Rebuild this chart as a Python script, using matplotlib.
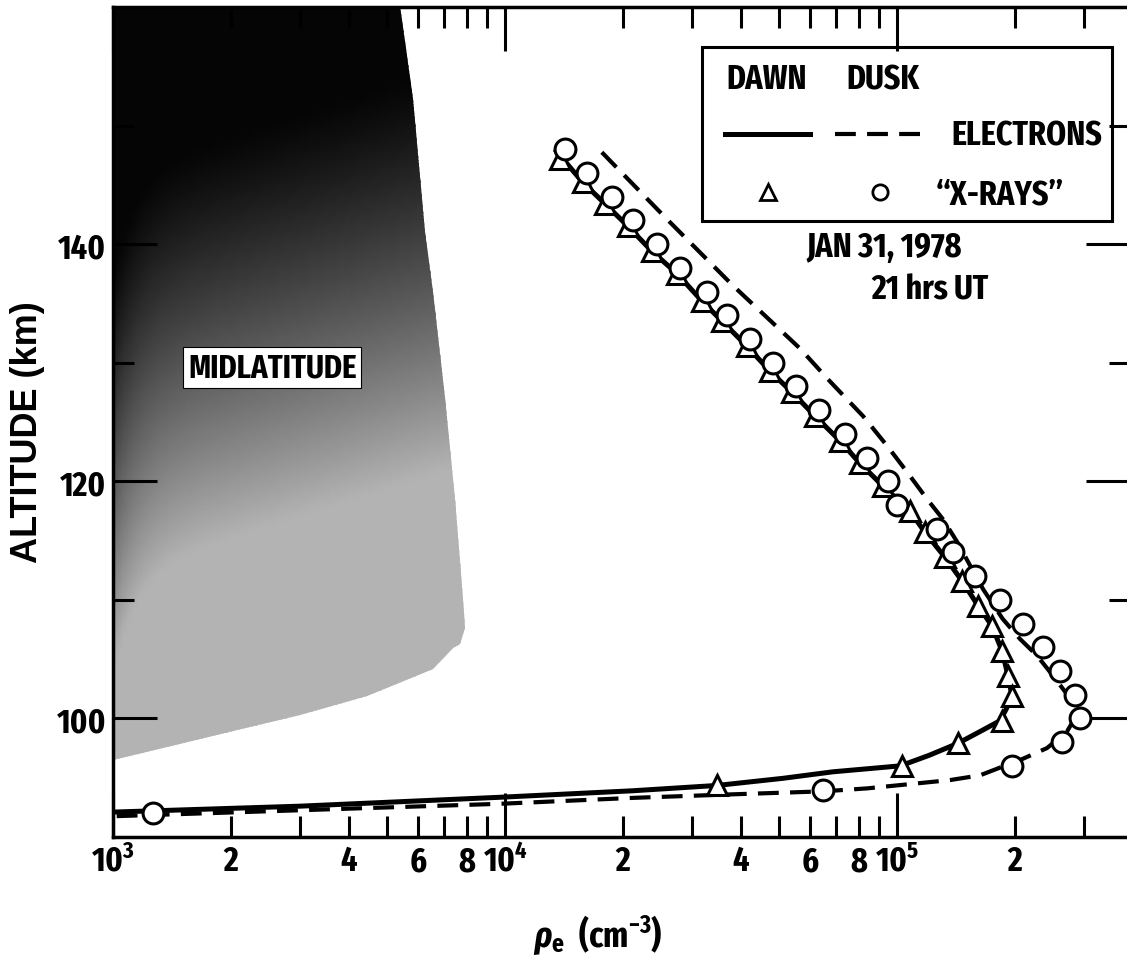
import os
import numpy as np
import matplotlib
matplotlib.use("Agg")
import matplotlib.pyplot as plt
from matplotlib import font_manager as fm
from matplotlib.patches import Polygon, Rectangle
from matplotlib.ticker import FixedLocator, FixedFormatter

# ---------------- data ----------------
# Dusk "X-RAYS" (circles)
dusk_xray_alt = [148, 146, 144, 142, 140, 138, 136, 134, 132, 130, 128, 126, 124, 122,
                 120, 118, 116, 114, 112, 110, 108, 106, 104, 102, 100, 98, 96, 94, 92]
dusk_xray_dens = [14200, 16200, 18750, 21200, 24450, 27900, 32700, 36800, 42200, 48300,
                  55200, 63200, 73600, 83800, 94800, 100000, 126500, 138900, 158100, 183200,
                  209600, 235700, 260400, 284500, 293000, 263700, 196500, 64700, 1265]

# Dawn "X-RAYS" (triangles)
dawn_xray_alt = [147.2, 145.2, 143.4, 141.5, 139.4, 137.5, 135.2, 133.5, 131.4, 129.3,
                 127.5, 125.5, 123.4, 121.5, 119.6, 117.5, 115.7, 113.6, 111.6, 109.5,
                 107.8, 105.7, 103.6, 101.9, 99.8, 97.9, 96.0, 94.4]
dawn_xray_dens = [13800, 15800, 18000, 20600, 23700, 27500, 31800, 35800, 41400, 47400,
                  54000, 61800, 71600, 80500, 92100, 107900, 117800, 132500, 146500, 161000,
                  174700, 185300, 192000, 196500, 185300, 143200, 103000, 34760]

# Dawn electrons (solid)
dawn_e_alt = [148.0, 145.2, 143.4, 141.5, 139.4, 137.5, 135.2, 133.5, 131.4, 129.3,
              127.5, 125.5, 123.4, 121.5, 119.6, 117.5, 115.7, 113.6, 111.6, 109.5,
              107.8, 105.7, 103.6, 101.9, 100.8, 99.8, 98.9, 97.9, 96.9, 96.0,
              95.5, 94.95, 94.35, 93.9, 93.35, 92.6, 92.1]
dawn_e_dens = [13400, 15800, 18000, 20600, 23700, 27500, 31800, 35800, 41400, 47400,
               54000, 61800, 71600, 80500, 92100, 107900, 117800, 132500, 146500, 161000,
               174700, 185300, 192000, 196500, 190000, 183000, 163000, 143000, 121000, 102000,
               68700, 51200, 34800, 21200, 9700, 3000, 1000]

# Dusk electrons (dashed)
dusk_e_alt = [147.75, 142.1, 136.5, 131.2, 128.6, 125.5, 123.0, 120.8, 118.5, 116.8,
              114.9, 110.9, 108.4, 106.7, 105.3, 103.6, 101.7, 100.0, 98.9, 97.5,
              96.6, 95.2, 94.8, 94.1, 93.85, 93.6, 93.3, 92.8, 91.75]
dusk_e_dens = [17660, 25900, 38160, 56570, 66680, 81900, 94300, 106000, 119300, 131000,
               142300, 165800, 186000, 206000, 227600, 250000, 276300, 284000, 271500, 241400,
               209600, 162800, 136500, 83900, 64700, 38160, 21210, 9710, 1000]

# Midlatitude region outline
midlat_dens = [1000, 5400, 5460, 5820, 6250, 6550, 7030, 7450, 7820, 7900, 7670, 7360,
               6550, 4450, 3000, 2020, 1370, 1000]
midlat_alt = [160, 160, 158.9, 152.2, 141.0, 136.0, 127.0, 118.5, 110.1, 107.6, 106.3, 105.9,
              104.2, 101.9, 100.25, 98.9, 97.6, 96.5]

x_major = [1e3, 1e4, 1e5]
x_major_labels = [r'$10^{3}$', r'$10^{4}$', r'$10^{5}$']
x_minor = [m * d for d in (1e3, 1e4, 1e5) for m in range(2, 10)]
x_minor_labels = ['2', '', '4', '', '6', '', '8', ''] * 3
y_major = [100, 120, 140]
y_minor = [110, 130, 150]

# ---------------- fonts: look for a condensed bold face ----------------
def _norm(s):
    return s.lower().replace(' ', '').replace('-', '').replace('_', '')

def _weight_num(w):
    if isinstance(w, str):
        return {'bold': 700, 'semibold': 600, 'demibold': 600, 'demi': 600,
                'medium': 500, 'normal': 400, 'regular': 400, 'book': 400,
                'extra bold': 800, 'heavy': 800, 'black': 900}.get(w.lower(), 400)
    try:
        return int(w)
    except Exception:
        return 400

def choose_font():
    best = None
    for e in fm.fontManager.ttflist:
        if e.style != 'normal':
            continue
        wn = _weight_num(e.weight)
        if wn == 700:
            wbonus = 0.5
        elif wn == 600:
            wbonus = 0.3
        else:
            continue
        key = _norm(e.name + ' ' + os.path.basename(e.fname))
        st = str(e.stretch).lower()
        score = 0
        if 'liberationsansnarrow' in key:
            score = 10
        elif 'extracondensed' in key or st == 'extra-condensed':
            score = 9 if 'noto' in key else 8
        elif 'semicondensed' in key or st == 'semi-condensed':
            score = 4
        elif 'condensed' in key or 'narrow' in key or st == 'condensed':
            score = 7
        if 'ultra' in key or 'mono' in key or 'serif' in key or 'display' in key:
            score = min(score, 2)
        if score > 0:
            score += wbonus
            if best is None or score > best[0]:
                best = (score, e)
    return best

FONT, STRETCH, WEIGHT, COND = 'Liberation Sans', 'normal', 'bold', False
try:
    b = choose_font()
    if b is not None:
        FONT, STRETCH, WEIGHT, COND = b[1].name, b[1].stretch, b[1].weight, True
except Exception:
    pass

plt.rcParams['font.family'] = [FONT, 'DejaVu Sans']
plt.rcParams['font.weight'] = WEIGHT
plt.rcParams['font.stretch'] = STRETCH
plt.rcParams['axes.labelweight'] = WEIGHT
plt.rcParams['mathtext.fontset'] = 'custom'
_pat = '{}:weight={}:stretch={}'.format(FONT, WEIGHT, STRETCH)
plt.rcParams['mathtext.rm'] = _pat
plt.rcParams['mathtext.bf'] = _pat
plt.rcParams['mathtext.it'] = '{}:italic:weight={}:stretch={}'.format(FONT, WEIGHT, STRETCH)

FS = 25 if COND else 19     # general text size
FS_TICK = 25 if COND else 20

# ---------------- figure ----------------
W, H = 1127, 970
fig = plt.figure(figsize=(W / 100, H / 100), dpi=100)
AX_L, AX_R, AX_T, AX_B = 113, 1130, 8, 838
ax = fig.add_axes([AX_L / W, 1 - AX_B / H, (AX_R - AX_L) / W, (AX_B - AX_T) / H])
ax.set_xscale('log')
ax.set_xlim(1e3, 10 ** (3 + (AX_R - AX_L) / 392))
ax.set_ylim(90, 160)

def fx(px):
    return (px - AX_L) / (AX_R - AX_L)

def fy(py):
    return (AX_B - py) / (AX_B - AX_T)

# shaded midlatitude region
gx = np.logspace(3, 4, 80)
gy = np.linspace(90, 160, 120)
GX, GY = np.meshgrid(gx, gy)
u = np.log10(GX) - 3
t = np.clip((148 - GY) / 34 + 0.3 * u - 0.05 - 0.25 * np.exp(-u / 0.06), 0, 1) ** 1.2
shade = 0.02 + 0.68 * t
poly = Polygon(np.column_stack([midlat_dens, midlat_alt]), closed=True,
               transform=ax.transData, facecolor='none', edgecolor='none')
ax.add_patch(poly)
mesh = ax.pcolormesh(GX, GY, shade, cmap='gray', vmin=0, vmax=1, shading='gouraud', zorder=0.5)
mesh.set_clip_path(poly)

ax.text(2548, 129.6, 'MIDLATITUDE', ha='center', va='center', fontsize=FS - 1,
        bbox=dict(boxstyle='square,pad=0.15', fc='white', ec='black', lw=0.8), zorder=3)

# curves
ax.plot(dawn_e_dens, dawn_e_alt, color='black', lw=3.6, solid_capstyle='butt', zorder=2)
ax.plot(dusk_e_dens, dusk_e_alt, color='black', lw=3.0, linestyle=(0, (5, 2.7)), zorder=2)
ax.plot(dawn_xray_dens, dawn_xray_alt, linestyle='none', marker='^', ms=15,
        mfc='white', mec='black', mew=2.2, zorder=3)
ax.plot(dusk_xray_dens, dusk_xray_alt, linestyle='none', marker='o', ms=15,
        mfc='white', mec='black', mew=2.2, zorder=4)

# axes styling
for s in ax.spines.values():
    s.set_linewidth(2.5)
ax.xaxis.set_major_locator(FixedLocator(x_major))
ax.xaxis.set_major_formatter(FixedFormatter(x_major_labels))
ax.xaxis.set_minor_locator(FixedLocator(x_minor))
ax.xaxis.set_minor_formatter(FixedFormatter(x_minor_labels))
ax.yaxis.set_major_locator(FixedLocator(y_major))
ax.yaxis.set_minor_locator(FixedLocator(y_minor))
ax.tick_params(which='both', direction='in', top=True, right=True, width=2.2,
               labelsize=FS_TICK, pad=5)
ax.tick_params(which='major', length=32)
ax.tick_params(which='minor', length=15)

ax.set_ylabel('ALTITUDE (km)', fontsize=26, va='center', fontweight='bold',
              family=['Liberation Sans', 'DejaVu Sans'], fontstretch='normal')
ax.yaxis.set_label_coords(fx(28), fy(432))
ax.set_xlabel(r'$\mathit{\rho}_{\mathrm{e}}$  (cm$^{-3}$)', fontsize=FS + 1, va='center')
ax.xaxis.set_label_coords(fx(598), fy(935))

# legend box
ax.add_patch(Rectangle((fx(702), fy(222)), fx(1112) - fx(702), fy(48) - fy(222),
                       transform=ax.transAxes, fill=False, ec='black', lw=2.2, zorder=5))
ax.text(fx(767), fy(80), 'DAWN', transform=ax.transAxes, ha='center', va='center', fontsize=FS)
ax.text(fx(883), fy(80), 'DUSK', transform=ax.transAxes, ha='center', va='center', fontsize=FS)
ax.plot([fx(725), fx(810)], [fy(135), fy(135)], transform=ax.transAxes, color='black', lw=3.6)
ax.plot([fx(835), fx(925)], [fy(135), fy(135)], transform=ax.transAxes, color='black', lw=3.0,
        linestyle=(0, (5, 2.7)))
ax.text(fx(1102), fy(136), 'ELECTRONS', transform=ax.transAxes, ha='right', va='center',
        fontsize=FS)
ax.plot([fx(768)], [fy(193)], transform=ax.transAxes, marker='^', ms=12, mfc='white',
        mec='black', mew=2.0, linestyle='none')
ax.plot([fx(880)], [fy(193)], transform=ax.transAxes, marker='o', ms=11, mfc='white',
        mec='black', mew=2.0, linestyle='none')
ax.text(fx(1000), fy(195), '\u201cX-RAYS\u201d', transform=ax.transAxes, ha='center', va='center',
        fontsize=FS)
ax.text(fx(884), fy(248), 'JAN 31, 1978', transform=ax.transAxes, ha='center', va='center',
        fontsize=FS)
ax.text(fx(930), fy(290), '21 hrs UT', transform=ax.transAxes, ha='center', va='center',
        fontsize=FS)

fig.savefig('out.png', dpi=100)
